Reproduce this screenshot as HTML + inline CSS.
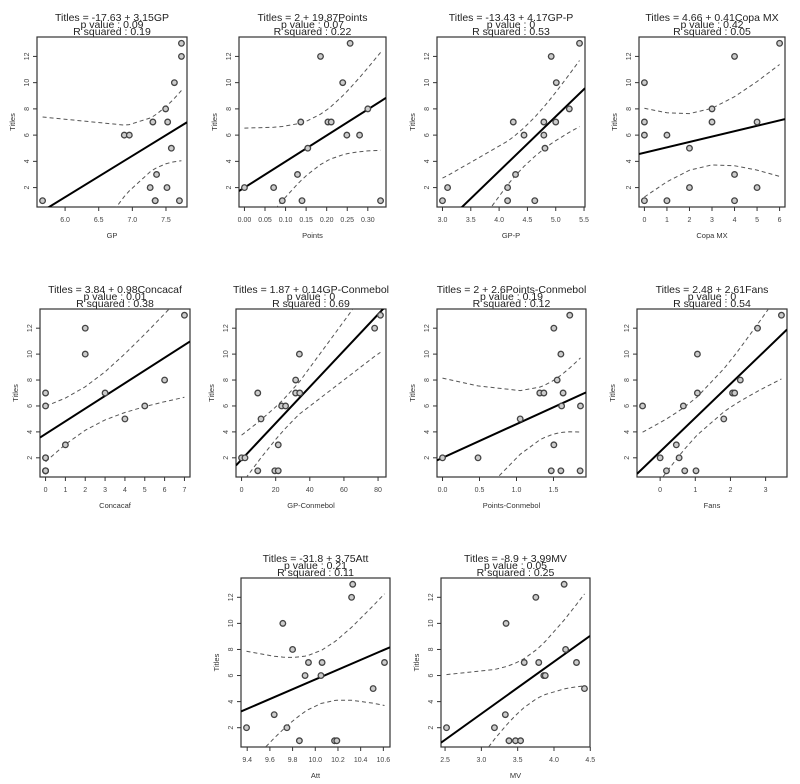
<!DOCTYPE html>
<html><head><meta charset="utf-8">
<style>
html,body{margin:0;padding:0;background:#fff;}
svg{display:block;font-family:"Liberation Sans",sans-serif;}
</style></head>
<body>
<svg id="chart" width="800" height="784" viewBox="0 0 800 784"></svg>
<script>
// ---- data (one array per panel) ----
const titles = [
 ["Titles = -17.63 + 3.15GP","p value : 0.09","R squared : 0.19"],
 ["Titles = 2 + 19.87Points","p value : 0.07","R squared : 0.22"],
 ["Titles = -13.43 + 4.17GP-P","p value : 0","R squared : 0.53"],
 ["Titles = 4.66 + 0.41Copa MX","p value : 0.42","R squared : 0.05"],
 ["Titles = 3.84 + 0.98Concacaf","p value : 0.01","R squared : 0.38"],
 ["Titles = 1.87 + 0.14GP-Conmebol","p value : 0","R squared : 0.69"],
 ["Titles = 2 + 2.6Points-Conmebol","p value : 0.19","R squared : 0.12"],
 ["Titles = 2.48 + 2.61Fans","p value : 0","R squared : 0.54"],
 ["Titles = -31.8 + 3.75Att","p value : 0.21","R squared : 0.11"],
 ["Titles = -8.9 + 3.99MV","p value : 0.05","R squared : 0.25"]
];
const xNames = ["GP","Points","GP-P","Copa MX","Concacaf","GP-Conmebol","Points-Conmebol","Fans","Att","MV"];
const intercepts = [-17.63, 2, -13.43, 4.66, 3.84, 1.87, 2, 2.48, -31.8, -8.9];
const slopes = [3.15, 19.87, 4.17, 0.41, 0.98, 0.14, 2.6, 2.61, 3.75, 3.99];
const xGP = [5.665,6.88,6.955,7.305,7.265,7.34,7.36,7.495,7.525,7.515,7.58,7.625,7.7,7.73,7.73,7.34];
const yGP = [1,6,6,7,2,1,3,8,7,2,5,10,1,12,13,1];
const xPoints = [0,0.071,0.092,0.129,0.137,0.14,0.154,0.185,0.203,0.211,0.239,0.249,0.257,0.28,0.3,0.331];
const yPoints = [2,2,1,3,7,1,5,12,7,7,10,6,13,6,8,1];
const xGPP = [3.0,3.09,4.15,4.15,4.25,4.29,4.44,4.63,4.79,4.79,4.81,4.92,5.0,5.01,5.24,5.42];
const yGPP = [1,2,2,1,7,3,6,1,7,6,5,12,7,10,8,13];
const xCopa = [0,0,0,0,1,1,2,2,3,3,4,4,4,5,5,6];
const yCopa = [1,6,7,10,1,6,2,5,7,8,1,3,12,2,7,13];
const xConc = [0,0,0,0,0,1,2,2,3,4,5,6,7,0,0,0];
const yConc = [1,2,6,7,1,3,10,12,7,5,6,8,13,1,1,2];
const xGPC = [0,2,9.5,9.5,11.4,19.5,21.5,21.5,23.5,25.8,31.7,31.7,33.9,34.1,78,81.4];
const yGPC = [2,2,7,1,5,1,1,3,6,6,8,7,10,7,12,13];
const xPC = [0,0.48,1.05,1.315,1.37,1.47,1.505,1.505,1.55,1.6,1.6,1.61,1.63,1.72,1.86,1.865];
const yPC = [2,2,5,7,7,1,3,12,8,1,10,6,7,13,1,6];
const xFans = [-0.5,0,0.18,0.46,0.54,0.66,0.7,1.02,1.06,1.06,1.81,2.06,2.12,2.28,2.77,3.45];
const yFans = [6,2,1,3,2,6,1,1,10,7,5,7,7,8,12,13];
const xAtt = [9.394,9.638,9.714,9.75,9.80,9.86,9.91,9.94,10.05,10.06,10.17,10.19,10.32,10.33,10.51,10.61];
const yAtt = [2,3,10,2,8,1,6,7,6,7,1,1,12,13,5,7];
const xMV = [2.52,3.18,3.33,3.34,3.38,3.47,3.54,3.59,3.75,3.79,3.86,3.88,4.14,4.16,4.31,4.42];
const yMV = [2,2,3,10,1,1,1,7,12,7,6,6,13,8,7,5];
const xs = [xGP,xPoints,xGPP,xCopa,xConc,xGPC,xPC,xFans,xAtt,xMV];
const ys = [yGP,yPoints,yGPP,yCopa,yConc,yGPC,yPC,yFans,yAtt,yMV];
const xTicks = [
 ["6.0","6.5","7.0","7.5"],
 ["0.00","0.05","0.10","0.15","0.20","0.25","0.30"],
 ["3.0","3.5","4.0","4.5","5.0","5.5"],
 ["0","1","2","3","4","5","6"],
 ["0","1","2","3","4","5","6","7"],
 ["0","20","40","60","80"],
 ["0.0","0.5","1.0","1.5"],
 ["0","1","2","3"],
 ["9.4","9.6","9.8","10.0","10.2","10.4","10.6"],
 ["2.5","3.0","3.5","4.0","4.5"]
];
const yTicks = [2,4,6,8,10,12];
// ---- layout ----
const boxes = [
 [37,187,37,207],[239,386,37,207],[437,585,37,207],[639,785,37,207],
 [40,190,309,477],[236,386,309,477],[437,586,309,477],[637,787,309,477],
 [241,390,578,747],[441,590,578,747]
];
const NS="http://www.w3.org/2000/svg";
const svg=document.getElementById('chart');
function mk(tag,attrs,parent){const e=document.createElementNS(NS,tag);for(const k in attrs)e.setAttribute(k,attrs[k]);(parent||svg).appendChild(e);return e;}

boxes.forEach((b,i)=>{
  const [L,R,T,B]=b;
  const g=mk('g',{});
  
  
  const X=xs[i], Y=ys[i];
  const xmin=Math.min(...X), xmax=Math.max(...X), dx=(xmax-xmin)*0.04;
  const x0=xmin-dx, x1=xmax+dx;
  const ymin=Math.min(...Y), ymax=Math.max(...Y), dy=(ymax-ymin)*0.04;
  const y0=ymin-dy, y1=ymax+dy;
  const sx=v=>L+(v-x0)/(x1-x0)*(R-L);
  const sy=v=>B-(v-y0)/(y1-y0)*(B-T);
  const cid='clip'+i;
  const cp=mk('clipPath',{id:cid},g); mk('rect',{x:L,y:T,width:R-L,height:B-T},cp);
  // title
  const cx=(L+R)/2;
  [T-16,T-9,T-2].forEach((yy,k)=>{
    const t=mk('text',{x:cx,y:yy,'text-anchor':'middle','font-size':'10.5',fill:'#222'},g);
    
    
    t.textContent=titles[i][k];
  });
  // box
  const r=mk('rect',{x:L,y:T,width:R-L,height:B-T,fill:'none',stroke:'#333','stroke-width':1.2},g);
  
  
  // y ticks
  yTicks.forEach(v=>{
    const yy=sy(v);
    mk('line',{x1:L-4,x2:L,y1:yy,y2:yy,stroke:'#333','stroke-width':1},g);
    const t=mk('text',{x:0,y:0,transform:`translate(${L-8},${yy}) rotate(-90)`,'text-anchor':'middle','font-size':'7',fill:'#444'},g);
    
    
    t.textContent=v;
  });
  const yt=mk('text',{x:0,y:0,transform:`translate(${L-22},${(T+B)/2}) rotate(-90)`,'text-anchor':'middle','font-size':'7.5',fill:'#333'},g);
  
  
  yt.textContent='Titles';
  // x ticks
  xTicks[i].forEach(s=>{
    const xx=sx(parseFloat(s));
    mk('line',{x1:xx,x2:xx,y1:B,y2:B+4,stroke:'#333','stroke-width':1},g);
    const t=mk('text',{x:xx,y:B+15,'text-anchor':'middle','font-size':'7',fill:'#444'},g);
    
    
    t.textContent=s;
  });
  const xt=mk('text',{x:cx,y:B+31,'text-anchor':'middle','font-size':'7.5',fill:'#333'},g);
  
  
  xt.textContent=xNames[i];
  // confidence band from data
  const a=intercepts[i], m=slopes[i], n=X.length;
  const xbar=X.reduce((p,c)=>p+c,0)/n;
  let sxx=0, sse=0;
  X.forEach((v,k)=>{sxx+=(v-xbar)**2; sse+=(Y[k]-(a+m*v))**2;});
  const s=Math.sqrt(sse/(n-2)), tq=2.145;
  const ux=[...new Set(X.slice().sort((p,q)=>p-q))];
  ['upper','lower'].forEach((nm,k)=>{
    const pts=ux.map(v=>{const se=s*Math.sqrt(1/n+(v-xbar)**2/sxx);const f=a+m*v+(k?-1:1)*tq*se;return sx(v).toFixed(1)+','+sy(f).toFixed(1);}).join(' ');
    const pl=mk('polyline',{points:pts,fill:'none',stroke:'#555','stroke-width':1,'stroke-dasharray':'4,3','clip-path':`url(#${cid})`},g);
    
    
  });
  // regression line
  const ln=mk('line',{x1:sx(x0),y1:sy(a+m*x0),x2:sx(x1),y2:sy(a+m*x1),stroke:'#000','stroke-width':2,'clip-path':`url(#${cid})`},g);
  
  
  // points
  X.forEach((v,k)=>{
    const c=mk('circle',{cx:sx(v),cy:sy(Y[k]),r:2.8,fill:'#ccc',stroke:'#444','stroke-width':1.3},g);
    
    
  });
});
</script>
</body></html>
